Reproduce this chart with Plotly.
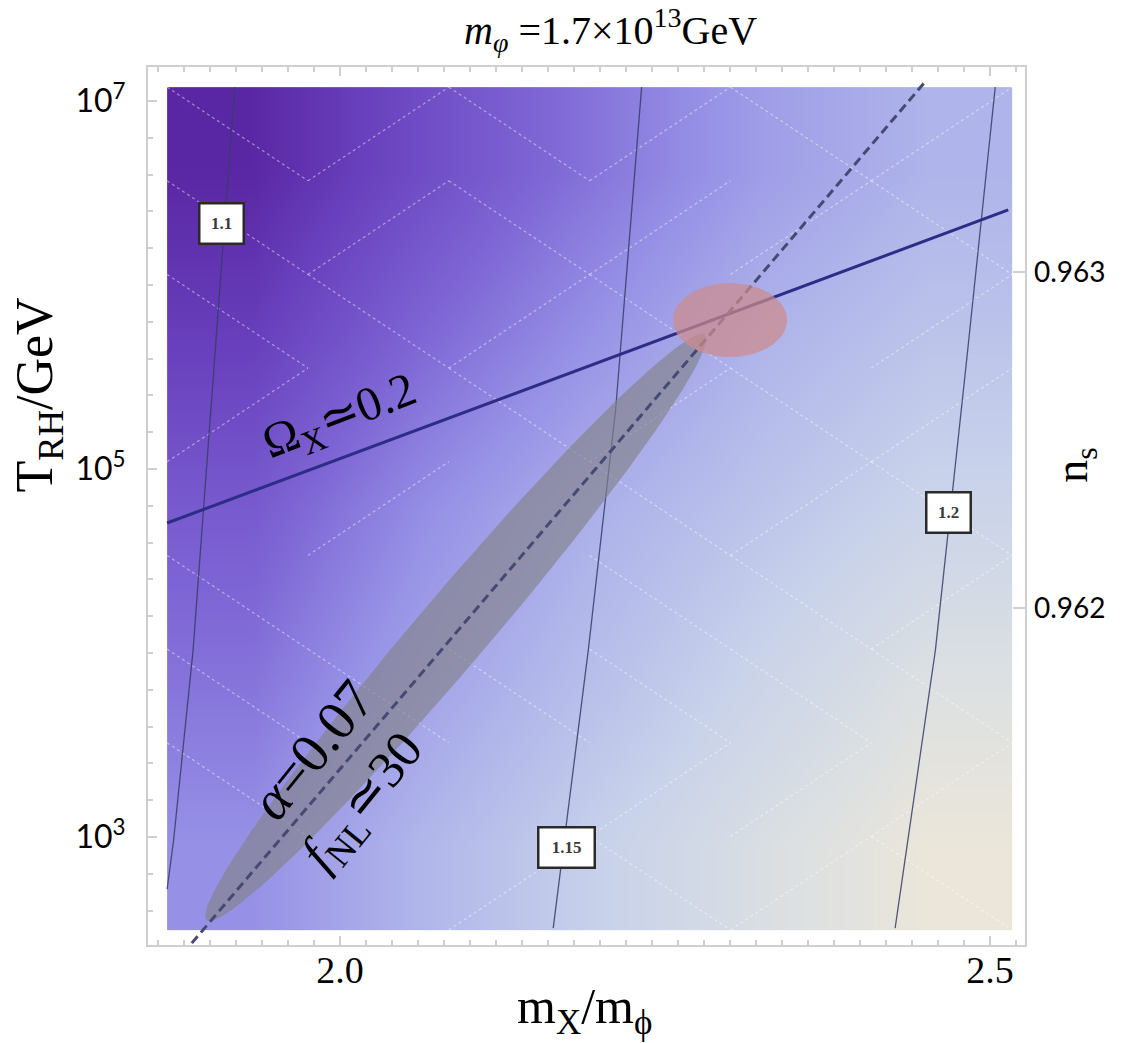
import numpy as np
import plotly.graph_objects as go

# ---------------- data ----------------
# extent of the shaded density region (m_X/m_phi, T_RH in GeV)
X_LO, X_HI = 1.867, 2.517
T_LO, T_HI = 3.12e2, 1.19e7

# background shading intensity on a 5x5 grid of cells (rows: low T -> high T)
shade_z = [
    [0.45, 0.61, 0.74, 0.86, 0.96],
    [0.35, 0.52, 0.65, 0.77, 0.88],
    [0.26, 0.44, 0.58, 0.68, 0.77],
    [0.14, 0.31, 0.46, 0.60, 0.68],
    [0.04, 0.20, 0.35, 0.50, 0.60],
]

# triangulation seams of the density plot: one diagonal per cell
# (1 = top-left to bottom-right, -1 = bottom-left to top-right, 0 = none), rows top -> bottom
mesh_pattern = [
    [1, -1, 1, -1, 1, -1],
    [1, -1, 1, -1, -1, 1],
    [1, 1, -1, 1, 0, -1],
    [-1, 0, 1, -1, 1, -1],
    [0, -1, 0, 1, -1, 1],
    [1, 0, 0, 1, 1, -1],
    [1, 1, 1, 1, 1, 1],
    [1, 0, 0, -1, -1, -1],
    [0, 0, -1, 1, -1, 1],
]

# contours of the ratio (labels 1.1, 1.15, 1.2)
contour_labels = ["1.1", "1.15", "1.2"]
c110_x = [1.919, 1.905, 1.887, 1.872, 1.867]
c110_T = [1.19e7, 5.7e5, 1.04e4, 9.6e2, 5.2e2]
c115_x = [2.232, 2.212, 2.191, 2.164]
c115_T = [1.19e7, 2.1e5, 1.04e4, 3.2e2]
c120_x = [2.504, 2.482, 2.458, 2.427]
c120_T = [1.19e7, 3.9e5, 1.04e4, 3.2e2]
contour_label_x = [1.909, 2.174, 2.468]
contour_label_T = [2.17e6, 8.8e2, 5.8e4]

# relic abundance line Omega_X ~ 0.2
omega_x = [1.867, 2.514]
omega_T = [5.09e4, 2.56e6]

# alpha = 0.07 line
alpha_x = [1.886, 2.450]
alpha_T = [2.65e2, 1.27e7]

# f_NL ~ 30 band: centre, half major axis, half minor axis (dx, d log10 T)
band_center = (2.089, 1.376e4)
band_major = (0.1915, 1.590)
band_minor = (0.0210, -0.126)

# preferred point: centre and half axes (dx, d log10 T)
spot_center = (2.300, 6.45e5)
spot_axes = (0.0439, 0.201)

# axis ticks
x_ticks = [2.0, 2.5]
y_ticks = [1e3, 1e5, 1e7]
ns_ticks = [0.962, 0.963]
ns_range = [0.960997, 0.963610]

# ---------------- figure ----------------
SERIF = "Liberation Serif, Times New Roman, serif"
SANS = "Lato, Open Sans, sans-serif"
FRAME = "#cfcfcf"

scale = [
    [0.00, "rgb(85,30,155)"],
    [0.15, "rgb(105,65,190)"],
    [0.30, "rgb(125,100,212)"],
    [0.45, "rgb(150,145,230)"],
    [0.60, "rgb(175,180,234)"],
    [0.75, "rgb(200,210,234)"],
    [0.88, "rgb(220,224,226)"],
    [1.00, "rgb(242,233,213)"],
]

fig = go.Figure()

fig.add_trace(go.Heatmap(
    x=np.linspace(X_LO, X_HI, len(shade_z[0]) + 1),
    y=np.logspace(np.log10(T_LO), np.log10(T_HI), len(shade_z) + 1),
    z=shade_z, zmin=0, zmax=1, zsmooth="best",
    colorscale=scale, showscale=False, hoverinfo="skip",
))

# seams
xe = np.linspace(X_LO, X_HI, len(mesh_pattern[0]) + 1)
le = np.linspace(np.log10(T_HI), np.log10(T_LO), len(mesh_pattern) + 1)
mx, my = [], []
for r, row in enumerate(mesh_pattern):
    for c, d in enumerate(row):
        if d == 0:
            continue
        mx += [xe[c], xe[c + 1], None]
        if d == 1:
            my += [10 ** le[r], 10 ** le[r + 1], None]
        else:
            my += [10 ** le[r + 1], 10 ** le[r], None]
fig.add_trace(go.Scatter(
    x=mx, y=my, mode="lines", hoverinfo="skip", showlegend=False,
    line=dict(color="rgba(255,255,255,0.45)", width=1.2, dash="dot"),
))

# ratio contours
for cx, cT in [(c110_x, c110_T), (c115_x, c115_T), (c120_x, c120_T)]:
    fig.add_trace(go.Scatter(
        x=cx, y=cT, mode="lines", hoverinfo="skip", showlegend=False,
        line=dict(color="rgba(55,60,105,0.85)", width=1.3),
    ))


def ellipse(center, a, b, n=160):
    t = np.linspace(0, 2 * np.pi, n)
    xs = center[0] + a[0] * np.cos(t) + b[0] * np.sin(t)
    ls = np.log10(center[1]) + a[1] * np.cos(t) + b[1] * np.sin(t)
    return xs, 10 ** ls


# f_NL band
bx, by = ellipse(band_center, band_major, band_minor)
fig.add_trace(go.Scatter(
    x=bx, y=by, mode="lines", fill="toself", hoverinfo="skip", showlegend=False,
    line=dict(width=0), fillcolor="rgba(130,130,138,0.66)",
))

# Omega_X line
fig.add_trace(go.Scatter(
    x=omega_x, y=omega_T, mode="lines", hoverinfo="skip", showlegend=False,
    line=dict(color="rgb(45,45,135)", width=3),
))

# alpha line
fig.add_trace(go.Scatter(
    x=alpha_x, y=alpha_T, mode="lines", hoverinfo="skip", showlegend=False,
    line=dict(color="rgb(70,74,115)", width=3, dash="9px,5px"),
))

# preferred spot
sx, sy = ellipse(spot_center, (spot_axes[0], 0), (0, spot_axes[1]))
fig.add_trace(go.Scatter(
    x=sx, y=sy, mode="lines", fill="toself", hoverinfo="skip", showlegend=False,
    line=dict(width=0), fillcolor="rgba(205,138,140,0.72)",
))

# spectral-index axis carrier (invisible)
fig.add_trace(go.Scatter(x=[None], y=[None], yaxis="y2", showlegend=False, hoverinfo="skip"))

C = dict(xanchor="center", yanchor="middle", showarrow=False)
annotations = []
for lab, lx, lT in zip(contour_labels, contour_label_x, contour_label_T):
    annotations.append(dict(
        x=lx, y=np.log10(lT), xref="x", yref="y", text=f"<b>{lab}</b>",
        font=dict(family=SERIF, size=17, color="#3a3a3a"),
        bgcolor="white", bordercolor="#2a2a2a", borderwidth=2.5,
        width=54 if len(lab) > 3 else 42, height=38, borderpad=0, **C,
    ))

annotations += [
    dict(x=2.0, y=5.277, xref="x", yref="y", text="Ω<sub>X</sub>≃0.2", textangle=-21,
         font=dict(family=SERIF, size=48, color="black"), **C),
    dict(x=1.9785, y=3.473, xref="x", yref="y", text="<i>α</i>=0.07", textangle=-51,
         font=dict(family=SERIF, size=56, color="black"), **C),
    dict(x=2.0192, y=3.185, xref="x", yref="y", text="<i>f</i><sub>NL</sub>≃30", textangle=-51,
         font=dict(family=SERIF, size=52, color="black"), **C),
    dict(x=0.527, y=1.0421, xref="paper", yref="paper",
         text="<i>m</i><sub><i>φ</i></sub> =1.7×10<sup>13</sup>GeV",
         font=dict(family=SERIF, size=40, color="black"), **C),
    dict(x=-0.1254, y=0.626, xref="paper", yref="paper", text="T<sub>RH</sub>/GeV", textangle=-90,
         font=dict(family=SERIF, size=52, color="black"), **C),
    dict(x=0.498, y=-0.074, xref="paper", yref="paper", text="m<sub>X</sub>/m<sub>ϕ</sub>",
         font=dict(family=SERIF, size=50, color="black"), **C),
    dict(x=1.057, y=0.547, xref="paper", yref="paper", text="n<sub>s</sub>", textangle=-90,
         font=dict(family=SERIF, size=46, color="black"), **C),
]

fig.update_layout(
    width=1125, height=1043,
    margin=dict(l=148, r=100, t=67, b=98),
    paper_bgcolor="white", plot_bgcolor="white",
    showlegend=False,
    annotations=annotations,
    xaxis=dict(
        range=[1.8523, 2.5269], showgrid=False, zeroline=False,
        showline=True, linecolor=FRAME, linewidth=2, mirror="ticks",
        ticks="inside", ticklen=9, tickwidth=1.5, tickcolor=FRAME,
        tickvals=x_ticks, ticktext=[f"{v:.1f}" for v in x_ticks], ticklabelstandoff=-10,
        tickfont=dict(family=SERIF, size=38, color="black"),
        minor=dict(tickvals=list(np.round(np.arange(1.86, 2.53, 0.02), 2)), ticks="inside",
                   ticklen=5, tickcolor=FRAME, showgrid=False),
    ),
    yaxis=dict(
        type="log", range=[2.413, 7.185], showgrid=False, zeroline=False,
        showline=True, linecolor=FRAME, linewidth=2, mirror=True,
        ticks="inside", ticklen=9, tickwidth=1.5, tickcolor=FRAME,
        tickvals=y_ticks, ticktext=[f"10<sup>{int(np.log10(v))}</sup>" for v in y_ticks],
        ticklabelstandoff=14,
        tickfont=dict(family=SANS, size=32, color="black"),
        minor=dict(tickvals=[10 ** v for v in np.arange(2.6, 7.19, 0.2)], ticks="inside",
                   ticklen=5, tickcolor=FRAME, showgrid=False),
    ),
    yaxis2=dict(
        overlaying="y", side="right", range=ns_range, showgrid=False, zeroline=False,
        showline=False, ticks="inside", ticklen=12, tickwidth=1.5, tickcolor=FRAME,
        tickvals=ns_ticks, ticktext=[f"{v:.3f}" for v in ns_ticks], ticklabelstandoff=8,
        tickfont=dict(family=SANS, size=28, color="black"),
    ),
)

fig.write_html("out.html")
